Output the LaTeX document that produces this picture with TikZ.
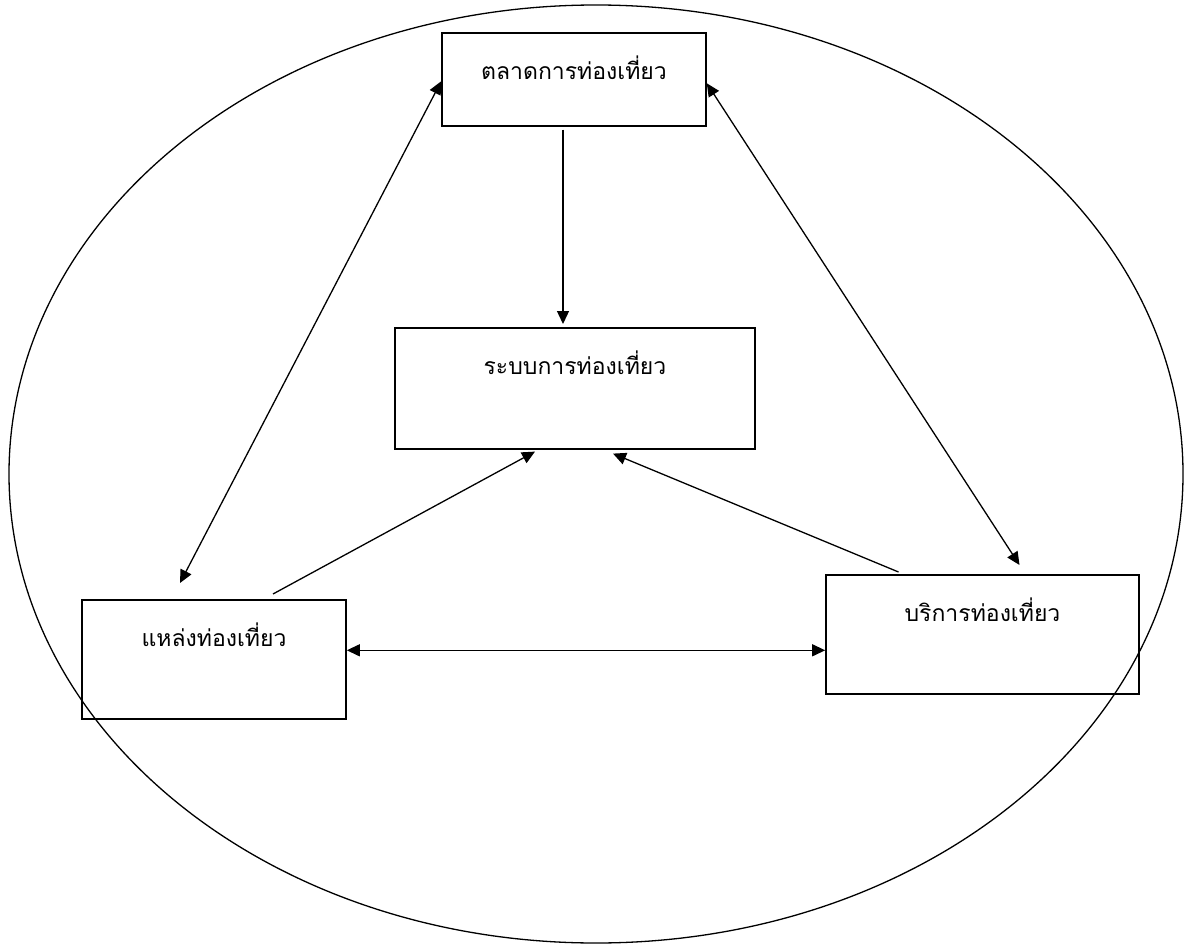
\documentclass[tikz,border=0pt]{standalone}
\usepackage{fontspec}
\newfontfamily\thaifont[Script=Thai]{Loma}
\usetikzlibrary{arrows.meta}
\begin{document}
\begin{tikzpicture}[x=1pt,y=-1pt,
    tbox/.style={draw,line width=1.6pt,inner sep=0pt,text height=47pt,
      font=\thaifont\fontsize{23}{27}\selectfont,anchor=north},
    link/.style={line width=1.3pt,-{Triangle[length=13pt,width=12pt]}},
    dlink/.style={line width=1.3pt,{Triangle[length=13pt,width=12pt]}-{Triangle[length=13pt,width=12pt]}}]
  \useasboundingbox (0,0) rectangle (1192,947);
  \draw[line width=1.3pt] (596,474) ellipse [x radius=587pt,y radius=469pt];
  \node[tbox,minimum width=264pt,text depth=46pt] (mkt) at (574,32) {ตลาดการท่องเที่ยว};
  \node[tbox,minimum width=360pt,text depth=74pt] (sys) at (575,327) {ระบบการท่องเที่ยว};
  \node[tbox,minimum width=264pt,text depth=72pt] (src) at (214,599) {แหล่งท่องเที่ยว};
  \node[tbox,minimum width=313pt,text depth=72pt] (srv) at (982.5,574) {บริการท่องเที่ยว};
  \draw[link] ([xshift=-11pt,yshift=-3pt]mkt.south) -- ([xshift=-12pt,yshift=3pt]sys.north);
  \draw[dlink] ([yshift=-2pt]mkt.west) -- ([xshift=-34pt,yshift=16pt]src.north);
  \draw[dlink] ([yshift=-4pt]mkt.east) -- ([xshift=37pt,yshift=9pt]srv.north);
  \draw[link] ([xshift=59pt,yshift=5pt]src.north) -- ([xshift=-40pt,yshift=-2pt]sys.south);
  \draw[link] ([xshift=-84pt,yshift=2pt]srv.north) -- ([xshift=38pt,yshift=-4pt]sys.south);
  \draw[dlink] ([yshift=9pt]src.east) -- ([yshift=9pt]src.east -| srv.west);
\end{tikzpicture}
\end{document}
